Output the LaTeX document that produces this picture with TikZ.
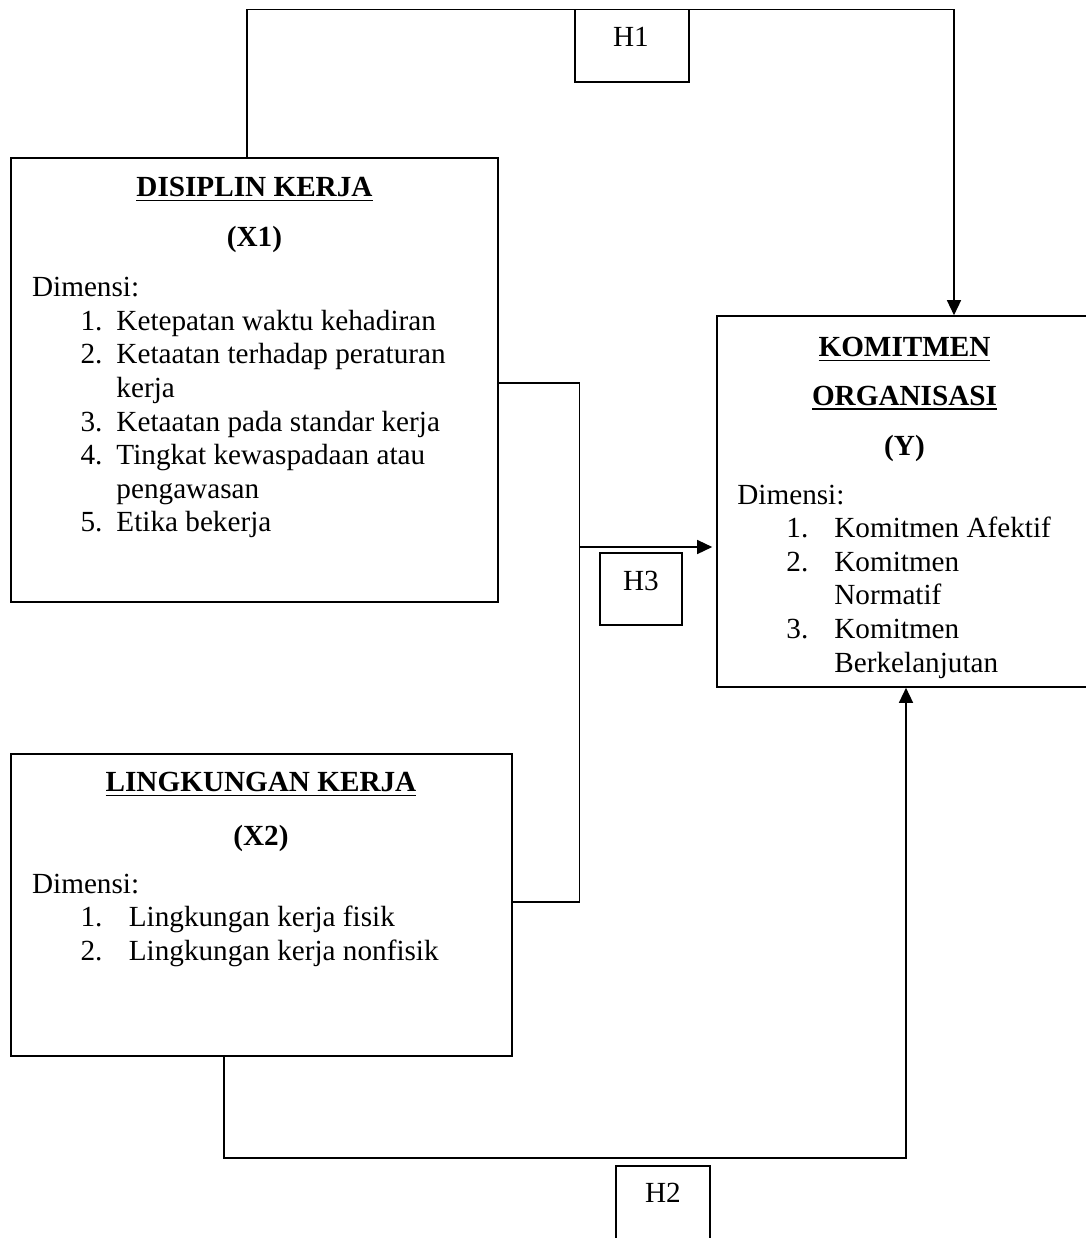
\documentclass[tikz,border=0pt]{standalone}
\usepackage{fontspec}
\setmainfont{Liberation Serif}
\usetikzlibrary{arrows.meta,positioning}
\newcommand{\ulhead}[1]{\setbox0=\hbox{#1}\rlap{\rule[-2.3pt]{\wd0}{0.7pt}}\box0}

\begin{document}
\begin{tikzpicture}[x=0.5pt,y=-0.5pt,
    font=\fontsize{14.6}{16.8}\selectfont,
    box/.style={draw,line width=0.8pt,inner sep=0pt},
    hbox/.style={draw,line width=0.7pt,inner sep=0pt},
    head/.style={anchor=base,inner sep=0pt,font=\fontsize{14.6}{16.8}\selectfont\bfseries},
    lbl/.style={anchor=base,inner sep=0pt},
    dims/.style={anchor=base west,inner sep=0pt},
    conn/.style={line width=0.7pt},
    arr/.style={line width=0.7pt,-{Triangle[length=7.5pt,width=7pt]}}]
  \useasboundingbox (0,0) rectangle (1086,1238);

  % variable boxes
  \node[box,minimum width=243.5pt,minimum height=222pt] (x1) at (254.5,380) {};
  \node[box,minimum width=187.5pt,minimum height=185.5pt] (y) at (904.5,501.5) {};
  \node[box,minimum width=250.5pt,minimum height=151pt] (x2) at (261.5,905) {};

  % hypothesis boxes
  \node[hbox,minimum width=57pt,minimum height=36.25pt] (h1) at (632,45.75) {};
  \node[hbox,minimum width=41pt,minimum height=36pt] (h3) at (641,589) {};
  \node[hbox,minimum width=47pt,minimum height=42pt] (h2) at (663,1208) {};
  \node[lbl] (h1t) at (631,46.7) {H1};
  \node[lbl] (h3t) at (641,590.7) {H3};
  \node[lbl] (h2t) at (663,1202.7) {H2};

  % X1
  \node[head] (x1a) at (254.5,196.7) {\ulhead{DISIPLIN KERJA}};
  \node[head] (x1b) at (254.5,246.7) {(X1)};
  \node[dims] (x1d) at (31.7,296.7) {\begin{tabular}[t]{@{}p{24.2pt}@{}p{18pt}@{}l@{}}
    \multicolumn{3}{@{}l@{}}{Dimensi:}\\
    & 1. & Ketepatan waktu kehadiran\\
    & 2. & Ketaatan terhadap peraturan\\
    &    & kerja\\
    & 3. & Ketaatan pada standar kerja\\
    & 4. & Tingkat kewaspadaan atau\\
    &    & pengawasan\\
    & 5. & Etika bekerja
  \end{tabular}};

  % Y
  \node[head] (ya) at (904.5,356.7) {\ulhead{KOMITMEN}};
  \node[head] (yb) at (904.5,405) {\ulhead{ORGANISASI}};
  \node[head] (yc) at (904.5,455) {(Y)};
  \node[dims] (yd) at (737,504) {\begin{tabular}[t]{@{}p{24.5pt}@{}p{24pt}@{}l@{}}
    \multicolumn{3}{@{}l@{}}{Dimensi:}\\
    & 1. & Komitmen Afektif\\
    & 2. & Komitmen\\
    &    & Normatif\\
    & 3. & Komitmen\\
    &    & Berkelanjutan
  \end{tabular}};

  % X2
  \node[head] (x2a) at (261,791.7) {\ulhead{LINGKUNGAN KERJA}};
  \node[head] (x2b) at (261,845) {(X2)};
  \node[dims] (x2d) at (31.7,893.3) {\begin{tabular}[t]{@{}p{24.2pt}@{}p{24.2pt}@{}l@{}}
    \multicolumn{3}{@{}l@{}}{Dimensi:}\\
    & 1. & Lingkungan kerja fisik\\
    & 2. & Lingkungan kerja nonfisik
  \end{tabular}};

  % connectors
  \coordinate (h1a) at (247,9.5);
  \coordinate (h1b) at (954,9.5);
  \draw[arr] (x1.north -| h1a) -- (h1a) -- (h1b) -- (y.north -| h1b);

  \coordinate (h3a) at (579.5,383);
  \coordinate (h3b) at (579.5,902);
  \coordinate (h3c) at (579.5,547);
  \draw[conn] (x1.east |- h3a) -- (h3a) -- (h3b) -- (x2.east |- h3b);
  \draw[arr] (h3c) -- ([xshift=-2pt]y.west |- h3c);

  \coordinate (h2a) at (224,1158);
  \coordinate (h2b) at (906,1158);
  \draw[arr] (x2.south -| h2a) -- (h2a) -- (h2b) -- (y.south -| h2b);
\end{tikzpicture}
\end{document}
